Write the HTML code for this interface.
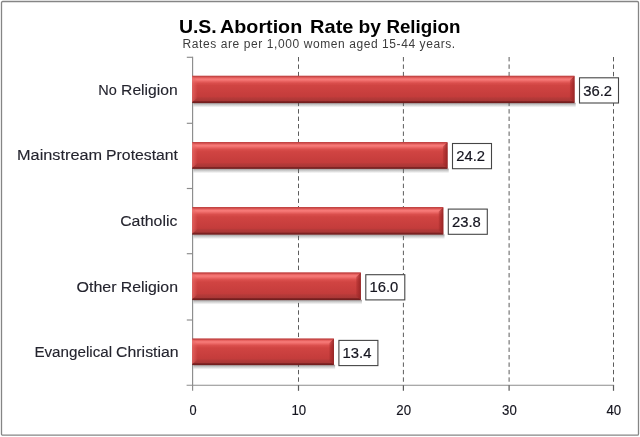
<!DOCTYPE html>
<html><head><meta charset="utf-8"><title>U.S. Abortion Rate by Religion</title>
<style>
html,body{margin:0;padding:0;background:#fff;}
body{width:640px;height:437px;overflow:hidden;}
svg{display:block;}
text{font-family:"Liberation Sans",sans-serif;}
.c{fill:#24242e;stroke:#24242e;stroke-width:0.12;}
.t{fill:#000;font-weight:bold;}
.s{fill:#3c3c3c;}
.v{fill:#15151f;stroke:#15151f;stroke-width:0.2;}
.a{fill:#15151f;stroke:#15151f;stroke-width:0.15;}
</style></head><body>
<svg width="640" height="437" viewBox="0 0 640 437">
<defs>
<linearGradient id="bar" x1="0" y1="0" x2="0" y2="1">
<stop offset="0" stop-color="#c04242"/>
<stop offset="0.04" stop-color="#c84847"/>
<stop offset="0.075" stop-color="#e6615f"/>
<stop offset="0.125" stop-color="#f67a78"/>
<stop offset="0.165" stop-color="#f37371"/>
<stop offset="0.215" stop-color="#e7605e"/>
<stop offset="0.27" stop-color="#da4e4c"/>
<stop offset="0.36" stop-color="#d04442"/>
<stop offset="0.60" stop-color="#c93f3e"/>
<stop offset="0.77" stop-color="#c33c3b"/>
<stop offset="0.81" stop-color="#b63a39"/>
<stop offset="0.91" stop-color="#aa3736"/>
<stop offset="0.935" stop-color="#862626"/>
<stop offset="0.97" stop-color="#741f1f"/>
<stop offset="1" stop-color="#701e1e"/>
</linearGradient>
<linearGradient id="rend" x1="0" y1="0" x2="1" y2="0">
<stop offset="0" stop-color="#a42a2a" stop-opacity="0.35"/>
<stop offset="0.5" stop-color="#a02828" stop-opacity="0.7"/>
<stop offset="0.8" stop-color="#9a2626" stop-opacity="0.85"/>
<stop offset="1" stop-color="#861e1e" stop-opacity="1"/>
</linearGradient>
<linearGradient id="lend" x1="0" y1="0" x2="1" y2="0">
<stop offset="0" stop-color="#ec6e6a" stop-opacity="0.7"/>
<stop offset="0.5" stop-color="#e66462" stop-opacity="0.4"/>
<stop offset="1" stop-color="#e46260" stop-opacity="0"/>
</linearGradient>
<linearGradient id="sh" x1="0" y1="0" x2="0" y2="1">
<stop offset="0" stop-color="#5a4a4a" stop-opacity="0.6"/>
<stop offset="0.3" stop-color="#606060" stop-opacity="0.4"/>
<stop offset="0.65" stop-color="#787878" stop-opacity="0.22"/>
<stop offset="1" stop-color="#999" stop-opacity="0"/>
</linearGradient>
</defs>
<rect x="0" y="0" width="640" height="437" fill="#fff"/>
<rect x="1.5" y="1.5" width="637" height="433.7" rx="1.2" ry="1.2" fill="#fff" stroke="#858585" stroke-width="1.3"/>

<text class="t" x="178.9" y="32.7" font-size="18.2" textLength="37.8" lengthAdjust="spacingAndGlyphs">U.S.</text>
<text class="t" x="220.1" y="32.7" font-size="18.2" textLength="82.1" lengthAdjust="spacingAndGlyphs">Abortion</text>
<text class="t" x="310.1" y="32.7" font-size="18.2" textLength="43.3" lengthAdjust="spacingAndGlyphs">Rate</text>
<text class="t" x="358.4" y="32.7" font-size="18.2" textLength="22.5" lengthAdjust="spacingAndGlyphs">by</text>
<text class="t" x="386.4" y="32.7" font-size="18.2" textLength="74.0" lengthAdjust="spacingAndGlyphs">Religion</text>
<text class="s" x="182.6" y="47.6" font-size="12" textLength="272.6" lengthAdjust="spacing">Rates are per 1,000 women aged 15-44 years.</text>
<line x1="298.5" y1="57.0" x2="298.5" y2="383.2" stroke="#5c5c5c" stroke-width="1" stroke-dasharray="4.4 3.05"/>
<line x1="403.4" y1="57.0" x2="403.4" y2="383.2" stroke="#5c5c5c" stroke-width="1" stroke-dasharray="4.4 3.05"/>
<line x1="509.1" y1="57.0" x2="509.1" y2="383.2" stroke="#5c5c5c" stroke-width="1" stroke-dasharray="4.4 3.05"/>
<line x1="613.5" y1="57.0" x2="613.5" y2="383.2" stroke="#5c5c5c" stroke-width="1" stroke-dasharray="4.4 3.05"/>
<line x1="192.6" y1="56.8" x2="192.6" y2="390.8" stroke="#8c8c8c" stroke-width="1.15"/>
<line x1="186.6" y1="385.2" x2="614.1" y2="385.2" stroke="#8c8c8c" stroke-width="1.15"/>
<line x1="186.79999999999998" y1="57.3" x2="192.6" y2="57.3" stroke="#8c8c8c" stroke-width="1.15"/>
<line x1="186.79999999999998" y1="123.3" x2="192.6" y2="123.3" stroke="#8c8c8c" stroke-width="1.15"/>
<line x1="186.79999999999998" y1="188.5" x2="192.6" y2="188.5" stroke="#8c8c8c" stroke-width="1.15"/>
<line x1="186.79999999999998" y1="253.7" x2="192.6" y2="253.7" stroke="#8c8c8c" stroke-width="1.15"/>
<line x1="186.79999999999998" y1="320.0" x2="192.6" y2="320.0" stroke="#8c8c8c" stroke-width="1.15"/>
<line x1="298.5" y1="385.2" x2="298.5" y2="390.8" stroke="#5a5a5a" stroke-width="1.2"/>
<line x1="403.4" y1="385.2" x2="403.4" y2="390.8" stroke="#5a5a5a" stroke-width="1.2"/>
<line x1="509.1" y1="385.2" x2="509.1" y2="390.8" stroke="#5a5a5a" stroke-width="1.2"/>
<line x1="613.5" y1="385.2" x2="613.5" y2="390.8" stroke="#5a5a5a" stroke-width="1.2"/>
<rect x="193.4" y="102.8" width="382.3" height="4.8" fill="url(#sh)"/>
<rect x="192.2" y="75.7" width="382.3" height="27.4" fill="url(#bar)"/>
<path d="M569.9 80.3L574.5 76.1V102.7L569.9 98.9Z" fill="url(#rend)"/>
<path d="M192.2 76.3L197.7 81.3V97.7L192.2 101.9Z" fill="url(#lend)"/>
<rect x="579.5" y="77.8" width="39" height="25.2" fill="#fff" stroke="#454545" stroke-width="1.1"/>
<text class="v" x="583.2" y="95.5" font-size="15" textLength="28.8" lengthAdjust="spacingAndGlyphs">36.2</text>
<text class="c" x="98.3" y="94.7" font-size="14" textLength="18.5" lengthAdjust="spacingAndGlyphs">No</text>
<text class="c" x="121.1" y="94.7" font-size="14" textLength="56.6" lengthAdjust="spacingAndGlyphs">Religion</text>
<rect x="193.4" y="168.6" width="255.3" height="4.8" fill="url(#sh)"/>
<rect x="192.2" y="142.0" width="255.3" height="26.9" fill="url(#bar)"/>
<path d="M442.9 146.6L447.5 142.4V168.5L442.9 164.7Z" fill="url(#rend)"/>
<path d="M192.2 142.6L197.7 147.6V163.5L192.2 167.7Z" fill="url(#lend)"/>
<rect x="452.5" y="143.5" width="39" height="25.2" fill="#fff" stroke="#454545" stroke-width="1.1"/>
<text class="v" x="456.2" y="161.2" font-size="15" textLength="28.8" lengthAdjust="spacingAndGlyphs">24.2</text>
<text class="c" x="17.0" y="160.4" font-size="14" textLength="85.1" lengthAdjust="spacingAndGlyphs">Mainstream</text>
<text class="c" x="106.1" y="160.4" font-size="14" textLength="71.9" lengthAdjust="spacingAndGlyphs">Protestant</text>
<rect x="193.4" y="234.4" width="251.1" height="4.8" fill="url(#sh)"/>
<rect x="192.2" y="207.0" width="251.1" height="27.7" fill="url(#bar)"/>
<path d="M438.7 211.6L443.3 207.4V234.3L438.7 230.5Z" fill="url(#rend)"/>
<path d="M192.2 207.6L197.7 212.6V229.3L192.2 233.5Z" fill="url(#lend)"/>
<rect x="448.3" y="209.1" width="39" height="25.2" fill="#fff" stroke="#454545" stroke-width="1.1"/>
<text class="v" x="452.0" y="226.8" font-size="15" textLength="28.8" lengthAdjust="spacingAndGlyphs">23.8</text>
<text class="c" x="120.2" y="226.0" font-size="14" textLength="57.2" lengthAdjust="spacingAndGlyphs">Catholic</text>
<rect x="193.4" y="299.8" width="168.6" height="4.8" fill="url(#sh)"/>
<rect x="192.2" y="272.3" width="168.6" height="27.8" fill="url(#bar)"/>
<path d="M356.2 276.9L360.8 272.7V299.7L356.2 295.9Z" fill="url(#rend)"/>
<path d="M192.2 272.9L197.7 277.9V294.7L192.2 298.9Z" fill="url(#lend)"/>
<rect x="365.8" y="274.7" width="39" height="25.2" fill="#fff" stroke="#454545" stroke-width="1.1"/>
<text class="v" x="369.5" y="292.4" font-size="15" textLength="28.8" lengthAdjust="spacingAndGlyphs">16.0</text>
<text class="c" x="76.6" y="291.6" font-size="14" textLength="40.0" lengthAdjust="spacingAndGlyphs">Other</text>
<text class="c" x="120.7" y="291.6" font-size="14" textLength="57.3" lengthAdjust="spacingAndGlyphs">Religion</text>
<rect x="193.4" y="364.8" width="141.7" height="4.8" fill="url(#sh)"/>
<rect x="192.2" y="338.4" width="141.7" height="26.7" fill="url(#bar)"/>
<path d="M329.3 343.0L333.9 338.8V364.7L329.3 360.9Z" fill="url(#rend)"/>
<path d="M192.2 339.0L197.7 344.0V359.7L192.2 363.9Z" fill="url(#lend)"/>
<rect x="338.9" y="340.4" width="39" height="25.2" fill="#fff" stroke="#454545" stroke-width="1.1"/>
<text class="v" x="342.6" y="358.1" font-size="15" textLength="28.8" lengthAdjust="spacingAndGlyphs">13.4</text>
<text class="c" x="34.4" y="357.3" font-size="14" textLength="77.7" lengthAdjust="spacingAndGlyphs">Evangelical</text>
<text class="c" x="116.1" y="357.3" font-size="14" textLength="62.5" lengthAdjust="spacingAndGlyphs">Christian</text>
<text class="a" x="189.6" y="414.9" font-size="14.2" textLength="7.1" lengthAdjust="spacingAndGlyphs">0</text>
<text class="a" x="291.4" y="414.9" font-size="14.2" textLength="14.7" lengthAdjust="spacingAndGlyphs">10</text>
<text class="a" x="396.3" y="414.9" font-size="14.2" textLength="14.7" lengthAdjust="spacingAndGlyphs">20</text>
<text class="a" x="502.1" y="414.9" font-size="14.2" textLength="14.7" lengthAdjust="spacingAndGlyphs">30</text>
<text class="a" x="606.4" y="414.9" font-size="14.2" textLength="14.7" lengthAdjust="spacingAndGlyphs">40</text>
</svg></body></html>
